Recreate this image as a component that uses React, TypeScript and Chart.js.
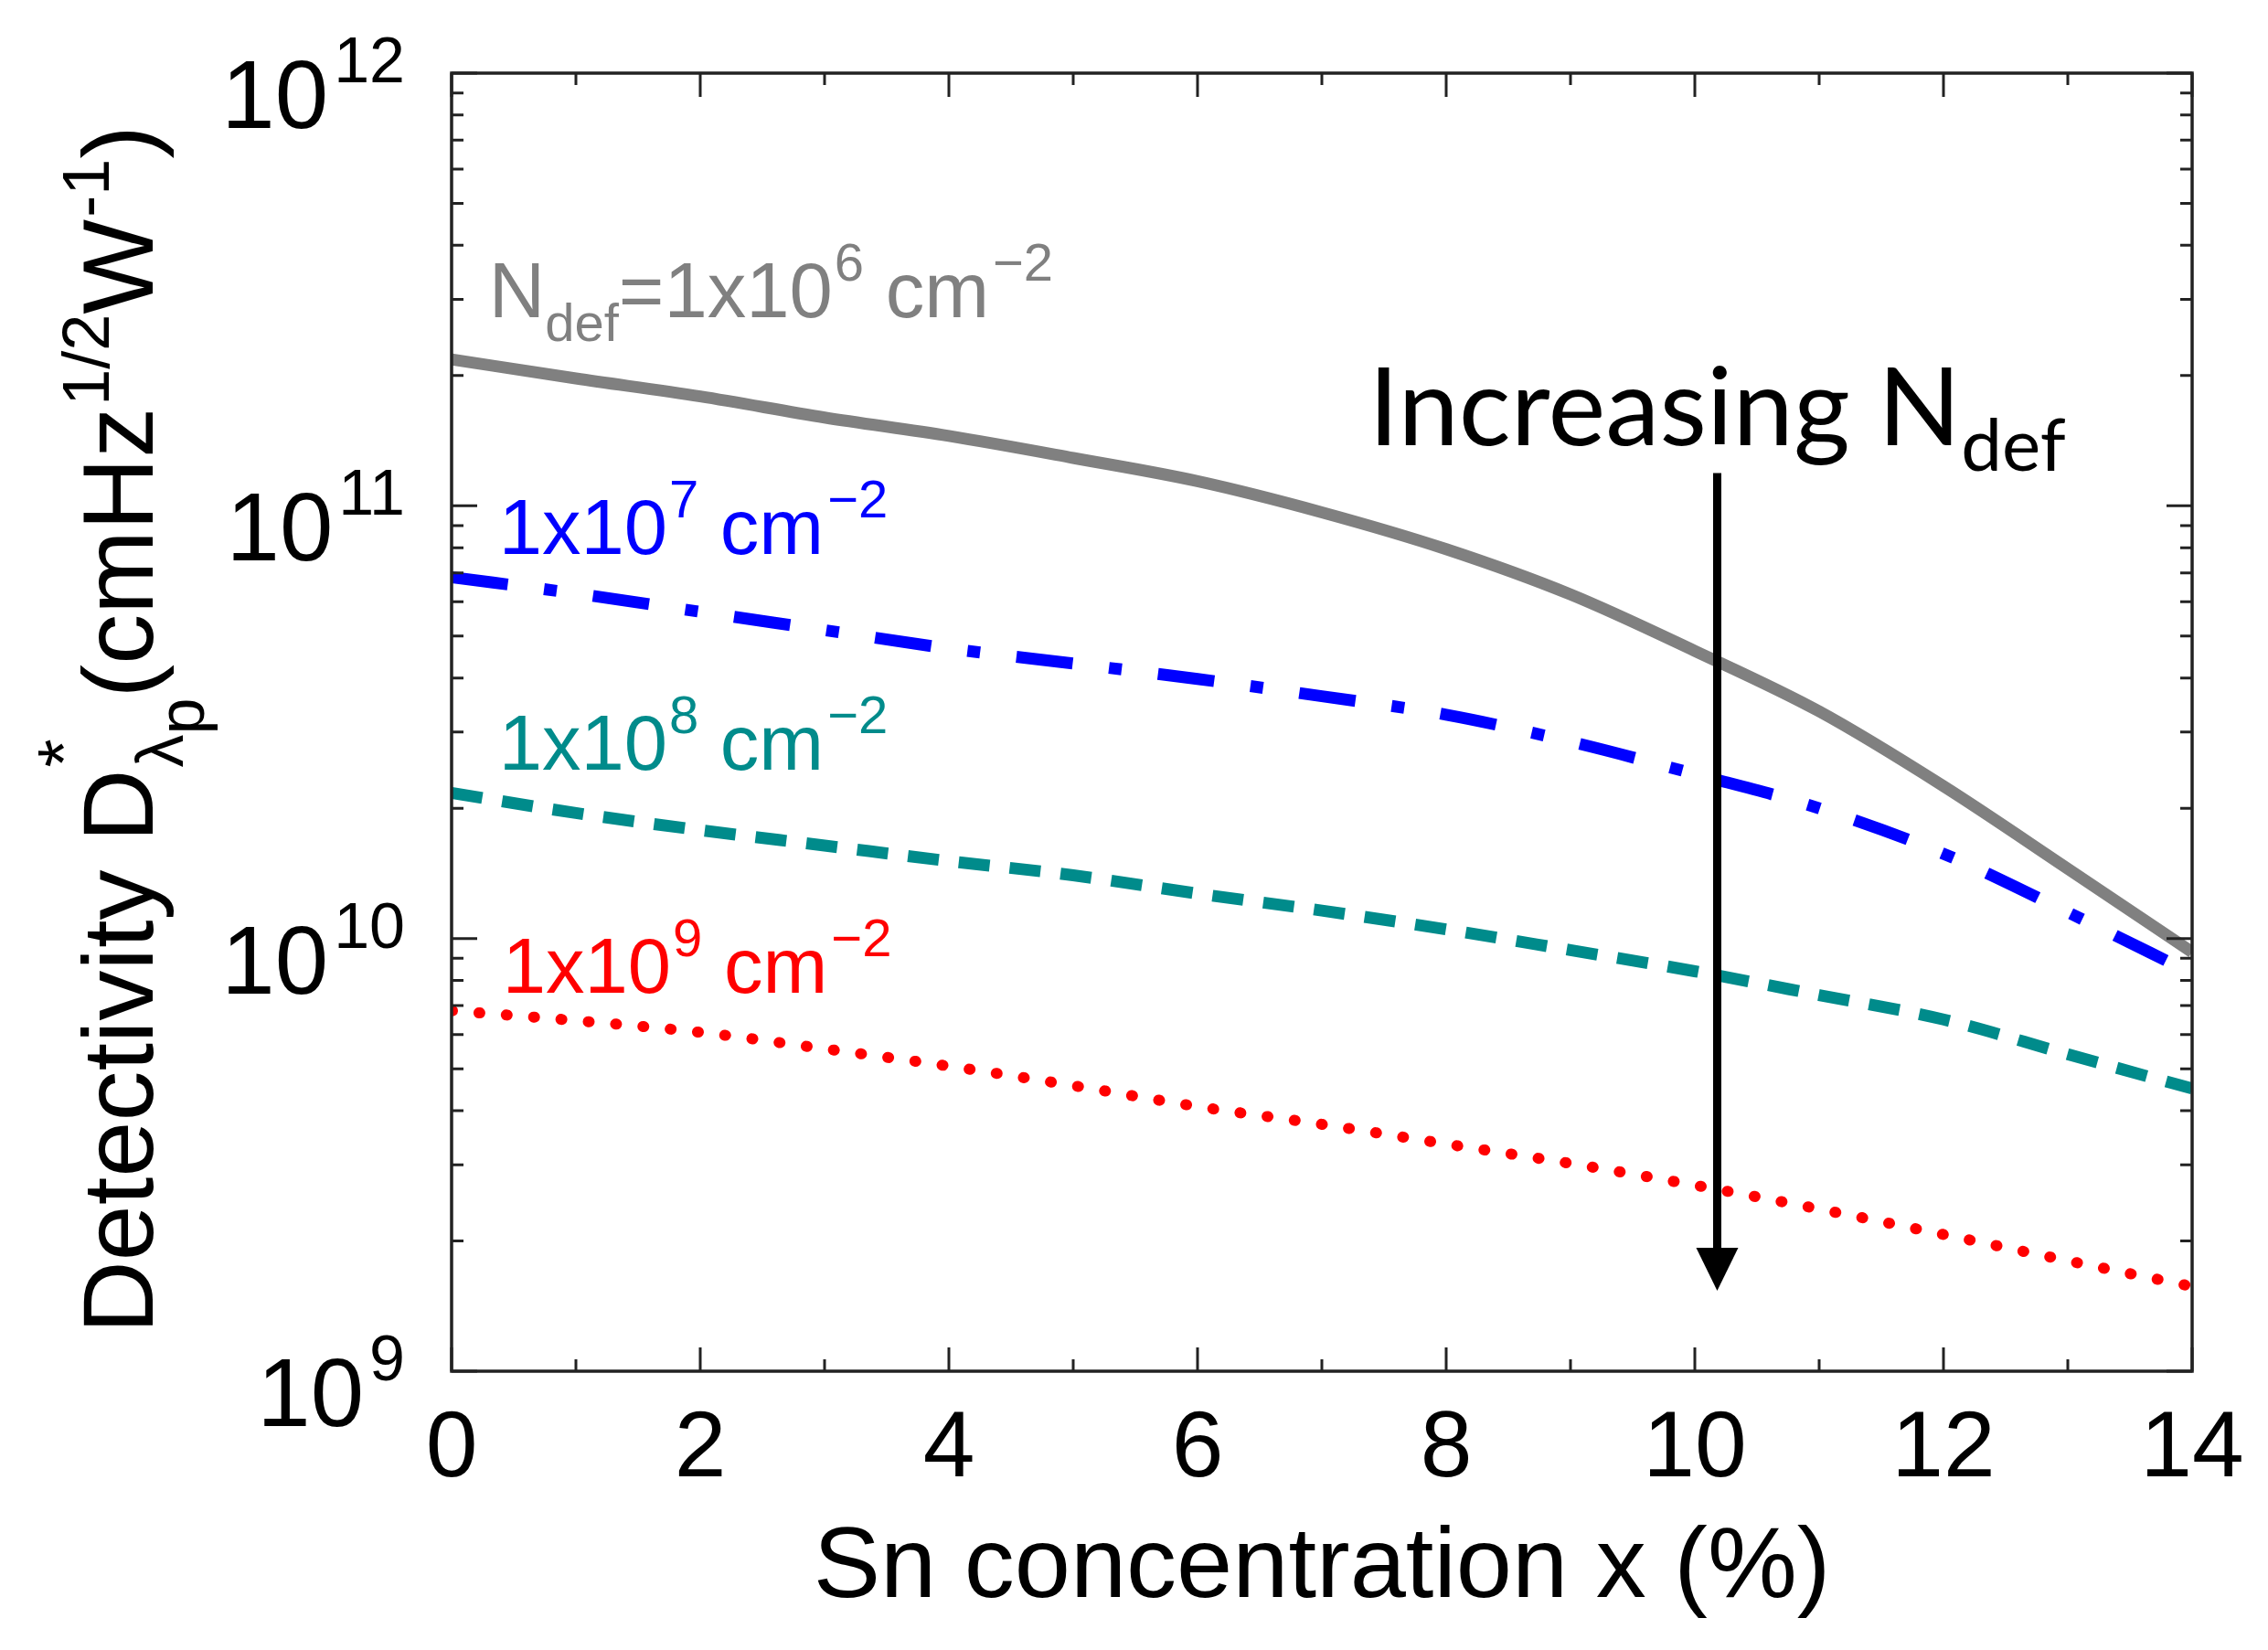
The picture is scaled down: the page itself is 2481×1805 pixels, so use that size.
import { useEffect, useRef } from "react"
import { Chart, registerables } from "chart.js"

Chart.register(...registerables)

const W = 2481
const H = 1805

// Sn concentration x (%)
const snConc = [0, 1, 2, 3, 4, 5, 6, 7, 8, 9, 10, 11, 12, 13, 14]

// detectivity D* (cmHz^1/2 W^-1) for each defect density
const dNdef1e6 = [2.18e11, 1.97e11, 1.79e11, 1.6e11, 1.45e11, 1.29e11, 1.14e11, 9.66e10, 7.94e10, 6.24e10, 4.62e10, 3.35e10, 2.25e10, 1.45e10, 9.3e9]
const dNdef1e7 = [6.84e10, 6.27e10, 5.69e10, 5.16e10, 4.68e10, 4.32e10, 3.98e10, 3.63e10, 3.29e10, 2.85e10, 2.4e10, 2.0e10, 1.57e10, 1.15e10, 8.3e9]
const dNdef1e8 = [2.17e10, 1.95e10, 1.78e10, 1.64e10, 1.51e10, 1.4e10, 1.27e10, 1.16e10, 1.05e10, 9.4e9, 8.4e9, 7.4e9, 6.5e9, 5.4e9, 4.5e9]
const dNdef1e9 = [6.81e9, 6.46e9, 6.07e9, 5.56e9, 5.07e9, 4.57e9, 4.09e9, 3.72e9, 3.35e9, 3.02e9, 2.69e9, 2.37e9, 2.07e9, 1.8e9, 1.57e9]

const xTickLabels = ["0", "2", "4", "6", "8", "10", "12", "14"]
const yDecades = [9, 10, 11, 12]

const SANS = "'Liberation Sans', Arial, sans-serif"
const CALIBRI = "Lato, 'Open Sans', sans-serif"

type Seg = { t: string; size: number; rise?: number; overlay?: boolean; gap?: number }

function layoutSegs(ctx: CanvasRenderingContext2D, segs: Seg[], family: string) {
  let cursor = 0
  let prevStart = 0
  let prevEnd = 0
  const out: (Seg & { x: number })[] = []
  for (const s of segs) {
    ctx.font = `${s.size}px ${family}`
    const w = ctx.measureText(s.t).width
    const start = (s.overlay ? prevStart : cursor) + (s.gap ?? 0)
    const end = start + w
    out.push({ ...s, x: start })
    cursor = s.overlay ? Math.max(prevEnd, end) : end
    prevStart = start
    prevEnd = end
  }
  return { out, width: cursor }
}

function drawSegs(
  ctx: CanvasRenderingContext2D,
  segs: Seg[],
  family: string,
  x: number,
  y: number,
  align: "left" | "center" | "right",
  color: string
) {
  const { out, width } = layoutSegs(ctx, segs, family)
  const x0 = align === "left" ? x : align === "right" ? x - width : x - width / 2
  ctx.fillStyle = color
  ctx.textAlign = "left"
  ctx.textBaseline = "alphabetic"
  for (const s of out) {
    ctx.font = `${s.size}px ${family}`
    ctx.fillText(s.t, x0 + s.x, y - (s.rise ?? 0))
  }
}

const curveLabel = (exp: string): Seg[] => [
  { t: "1x10", size: 85 },
  { t: exp, size: 58, rise: 40, gap: 2 },
  { t: " cm", size: 85 },
  { t: "\u22122", size: 58, rise: 40, gap: 4 },
]

// label anchors in data coordinates (x %, D*)
const labels = [
  {
    at: [0.3, 2.73e11],
    color: "#808080",
    segs: [
      { t: "N", size: 85 },
      { t: "def", size: 58, rise: -26 },
      { t: "=1x10", size: 85 },
      { t: "6", size: 58, rise: 40, gap: 2 },
      { t: " cm", size: 85 },
      { t: "\u22122", size: 58, rise: 40, gap: 4 },
    ] as Seg[],
  },
  { at: [0.38, 7.73e10], color: "#0000ff", segs: curveLabel("7") },
  { at: [0.38, 2.46e10], color: "#008b8b", segs: curveLabel("8") },
  { at: [0.41, 7.5e9], color: "#ff0000", segs: curveLabel("9") },
]

const arrowX = 10.18
const arrowTop = 1.19e11
const arrowTip = 1.535e9
const noteAt = [7.375, 1.38e11]

const decorPlugin = {
  id: "decor",
  afterDatasetsDraw(chart: any) {
    const { ctx, chartArea: a, scales } = chart
    const xs = scales.x
    const ys = scales.y
    ctx.save()

    // increasing-Ndef arrow
    const ax = xs.getPixelForValue(arrowX)
    const y0 = ys.getPixelForValue(arrowTop)
    const y1 = ys.getPixelForValue(arrowTip)
    ctx.strokeStyle = "#000"
    ctx.lineWidth = 9
    ctx.beginPath()
    ctx.moveTo(ax, y0)
    ctx.lineTo(ax, y1 - 40)
    ctx.stroke()
    ctx.fillStyle = "#000"
    ctx.beginPath()
    ctx.moveTo(ax - 23, y1 - 47)
    ctx.lineTo(ax + 23, y1 - 47)
    ctx.lineTo(ax, y1)
    ctx.closePath()
    ctx.fill()

    // frame
    ctx.strokeStyle = "#222"
    ctx.lineWidth = 3.5
    ctx.strokeRect(a.left, a.top, a.right - a.left, a.bottom - a.top)

    // inward ticks
    ctx.lineWidth = 3
    ctx.beginPath()
    for (let v = 0; v <= 14; v++) {
      const px = xs.getPixelForValue(v)
      const len = v % 2 === 0 ? 26 : 13
      ctx.moveTo(px, a.bottom)
      ctx.lineTo(px, a.bottom - len)
      ctx.moveTo(px, a.top)
      ctx.lineTo(px, a.top + len)
    }
    for (const d of yDecades) {
      for (let m = 1; m <= 9; m++) {
        if (d === 12 && m > 1) break
        const py = ys.getPixelForValue(m * Math.pow(10, d))
        const len = m === 1 ? 28 : 13
        ctx.moveTo(a.left, py)
        ctx.lineTo(a.left + len, py)
        ctx.moveTo(a.right, py)
        ctx.lineTo(a.right - len, py)
      }
    }
    ctx.stroke()

    // tick labels
    for (const lbl of xTickLabels) {
      const px = xs.getPixelForValue(Number(lbl))
      drawSegs(ctx, [{ t: lbl, size: 102 }], SANS, px, a.bottom + 115, "center", "#000")
    }
    for (const d of yDecades) {
      const py = ys.getPixelForValue(Math.pow(10, d))
      drawSegs(
        ctx,
        [
          { t: "10", size: 105 },
          { t: String(d), size: 70, rise: 50, gap: 6 },
        ],
        SANS,
        a.left - 51,
        py + 60,
        "right",
        "#000"
      )
    }

    // axis titles
    drawSegs(ctx, [{ t: "Sn concentration x (%)", size: 110 }], SANS, (a.left + a.right) / 2, a.bottom + 247, "center", "#000")
    ctx.save()
    ctx.translate(a.left - 327, (a.top + a.bottom) / 2 + 8)
    ctx.rotate(-Math.PI / 2)
    drawSegs(
      ctx,
      [
        { t: "Detectivity D", size: 110 },
        { t: "*", size: 80, rise: 70, gap: 2 },
        { t: "\u03bb", size: 72, rise: -33, overlay: true },
        { t: "p", size: 72, rise: -56 },
        { t: "(cmHz", size: 110 },
        { t: "1/2", size: 72, rise: 48, gap: 2 },
        { t: "W", size: 110 },
        { t: "-1", size: 72, rise: 48, gap: 2 },
        { t: ")", size: 110 },
      ],
      SANS,
      0,
      0,
      "center",
      "#000"
    )
    ctx.restore()

    // curve labels
    for (const l of labels) {
      drawSegs(ctx, l.segs, SANS, xs.getPixelForValue(l.at[0]), ys.getPixelForValue(l.at[1]), "left", l.color)
    }
    drawSegs(
      ctx,
      [
        { t: "Increasing N", size: 119 },
        { t: "def", size: 80, rise: -28 },
      ],
      CALIBRI,
      xs.getPixelForValue(noteAt[0]),
      ys.getPixelForValue(noteAt[1]),
      "left",
      "#000"
    )

    ctx.restore()
  },
}

const toPoints = (ys: number[]) => snConc.map((x, i) => ({ x, y: ys[i] }))

export default function App() {
  const chartRef = useRef<HTMLCanvasElement>(null)
  const chartInstance = useRef<Chart | null>(null)

  useEffect(() => {
    if (!chartRef.current) return
    if (chartInstance.current) chartInstance.current.destroy()
    const ctx = chartRef.current.getContext("2d")
    if (!ctx) return

    const common = {
      pointRadius: 0,
      borderWidth: 13,
      borderCapStyle: "butt" as const,
      cubicInterpolationMode: "monotone" as const,
      fill: false,
    }

    chartInstance.current = new Chart(ctx, {
      type: "line",
      data: {
        datasets: [
          { ...common, label: "1x10^6", data: toPoints(dNdef1e6), borderColor: "#808080" },
          { ...common, label: "1x10^7", data: toPoints(dNdef1e7), borderColor: "#0000ff", borderDash: [62, 40, 14, 40] },
          { ...common, label: "1x10^8", data: toPoints(dNdef1e8), borderColor: "#008b8b", borderDash: [34, 22] },
          {
            ...common,
            label: "1x10^9",
            data: toPoints(dNdef1e9),
            borderColor: "#ff0000",
            borderWidth: 12,
            borderCapStyle: "round" as const,
            borderDash: [1, 29],
          },
        ],
      },
      options: {
        responsive: false,
        animation: false,
        devicePixelRatio: 1,
        layout: { padding: { left: 494, right: 83, top: 80, bottom: 305 } },
        plugins: { legend: { display: false }, tooltip: { enabled: false } },
        scales: {
          x: { type: "linear", min: 0, max: 14, display: false },
          y: { type: "logarithmic", min: 1e9, max: 1e12, display: false },
        },
      },
      plugins: [decorPlugin],
    })

    return () => {
      if (chartInstance.current) {
        chartInstance.current.destroy()
        chartInstance.current = null
      }
    }
  }, [])

  return (
    <div style={{ position: "fixed", left: 0, top: 0, width: W, height: H, background: "#fff" }}>
      <canvas ref={chartRef} width={W} height={H} style={{ display: "block" }}></canvas>
    </div>
  )
}
